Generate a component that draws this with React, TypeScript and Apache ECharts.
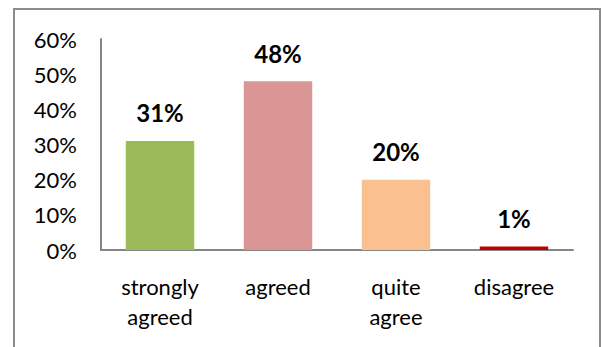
import React, { useEffect, useRef } from "react";
import * as echarts from "echarts";

const categories = ["strongly\nagreed", "agreed", "quite\nagree", "disagree"];
const values = [31, 48, 20, 1];
const barColors = ["#9BBB59", "#D99694", "#FAC090", "#C00000"];
const yTicks = [0, 10, 20, 30, 40, 50, 60];

export default function App() {
  const ref = useRef<HTMLDivElement>(null);
  useEffect(() => {
    const chart = echarts.init(ref.current!, null, { renderer: "svg" });
    chart.setOption({
      animation: false,
      backgroundColor: "#ffffff",
      textStyle: { fontFamily: "Lato" },
      graphic: [
        {
          type: "rect",
          shape: { x: 14, y: 9, width: 586, height: 400 },
          style: { fill: "none", stroke: "#8c8c8c", lineWidth: 2 },
          silent: true,
        },
      ],
      grid: { left: 101, right: 29, top: 39, bottom: 97 },
      xAxis: {
        type: "category",
        data: categories,
        axisLine: { show: true, lineStyle: { color: "#868686", width: 2 } },
        axisTick: { show: false },
        axisLabel: {
          color: "#000000",
          fontSize: 22,
          fontFamily: "Lato",
          lineHeight: 30,
          margin: 21,
          interval: 0,
        },
      },
      yAxis: {
        type: "value",
        min: yTicks[0],
        max: yTicks[yTicks.length - 1],
        interval: 10,
        splitLine: { show: false },
        axisLine: { show: true, lineStyle: { color: "#868686", width: 2 } },
        axisTick: { show: false },
        axisLabel: {
          color: "#000000",
          fontSize: 22,
          fontFamily: "Lato",
          margin: 24,
          formatter: (v: number) => `${v}%`,
        },
      },
      series: [
        {
          type: "bar",
          data: values.map((v, i) => ({ value: v, itemStyle: { color: barColors[i] } })),
          barCategoryGap: "42%",
          label: {
            show: true,
            position: "top",
            distance: 16,
            color: "#000000",
            fontSize: 24,
            fontWeight: "bold",
            fontFamily: "Lato",
            formatter: (p: any) => `${p.value}%`,
          },
        },
      ],
    });
    return () => chart.dispose();
  }, []);
  return (
    <div
      ref={ref}
      style={{ position: "fixed", left: 0, top: 0, width: 602, height: 347 }}
    />
  );
}
